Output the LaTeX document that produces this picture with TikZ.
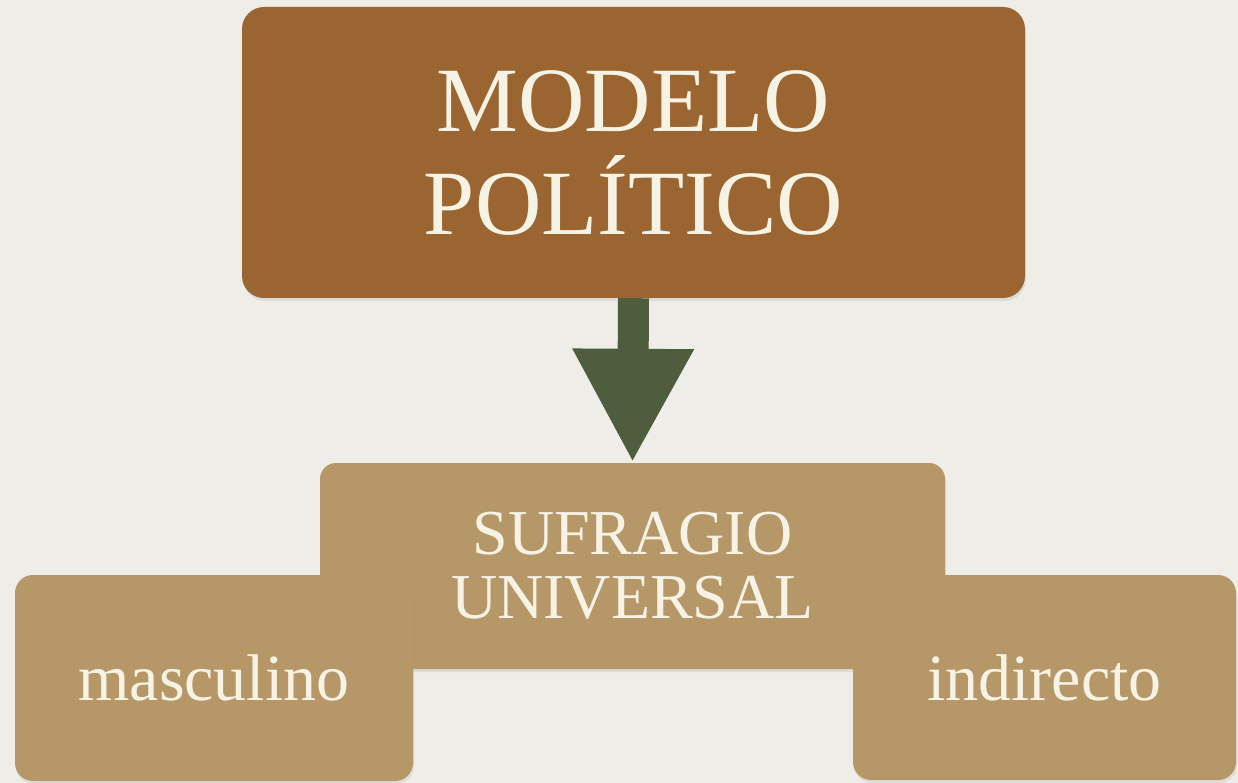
\documentclass[tikz,border=0pt]{standalone}
\usepackage{fontspec}
\setmainfont{Liberation Serif}
\usetikzlibrary{arrows.meta,shadows}
\definecolor{paper}{HTML}{EEEDE8}
\definecolor{rust}{HTML}{9A6530}
\definecolor{kraft}{HTML}{B69868}
\definecolor{moss}{HTML}{4E5D3D}
\definecolor{cream}{HTML}{F6F2E4}
\begin{document}
\begin{tikzpicture}[x=1pt,y=-1pt,
  card/.style={rectangle, rounded corners=18pt, inner sep=0pt, align=center, text=cream,
    drop shadow={opacity=0.15, shadow xshift=1pt, shadow yshift=-3pt}},
  bigcard/.style={card, fill=rust, rounded corners=22pt, font=\fontsize{92}{103}\selectfont},
  midcard/.style={card, fill=kraft, rounded corners=16pt, font=\fontsize{64}{64}\selectfont},
  smallcard/.style={card, fill=kraft, font=\fontsize{66}{70}\selectfont}]
\fill[paper] (0,0) rectangle (1238,783);
\useasboundingbox (0,0) rectangle (1238,783);

\node[bigcard, minimum width=783pt, minimum height=291pt] (modelo) at (633.5,152.5) {MODELO\\POLÍTICO};
\node[midcard, minimum width=625pt, minimum height=206pt] (sufragio) at (632.5,566) {SUFRAGIO\\UNIVERSAL};
\node[smallcard, minimum width=398pt, minimum height=206pt] (masc) at (214,678) {masculino};
\node[smallcard, minimum width=383pt, minimum height=205pt] (indir) at (1044.5,677.5) {indirecto};

\path[draw=moss, line width=31pt, -{Triangle[width=113pt,length=114pt]}] (modelo.south) -- (sufragio.north);
\end{tikzpicture}
\end{document}
